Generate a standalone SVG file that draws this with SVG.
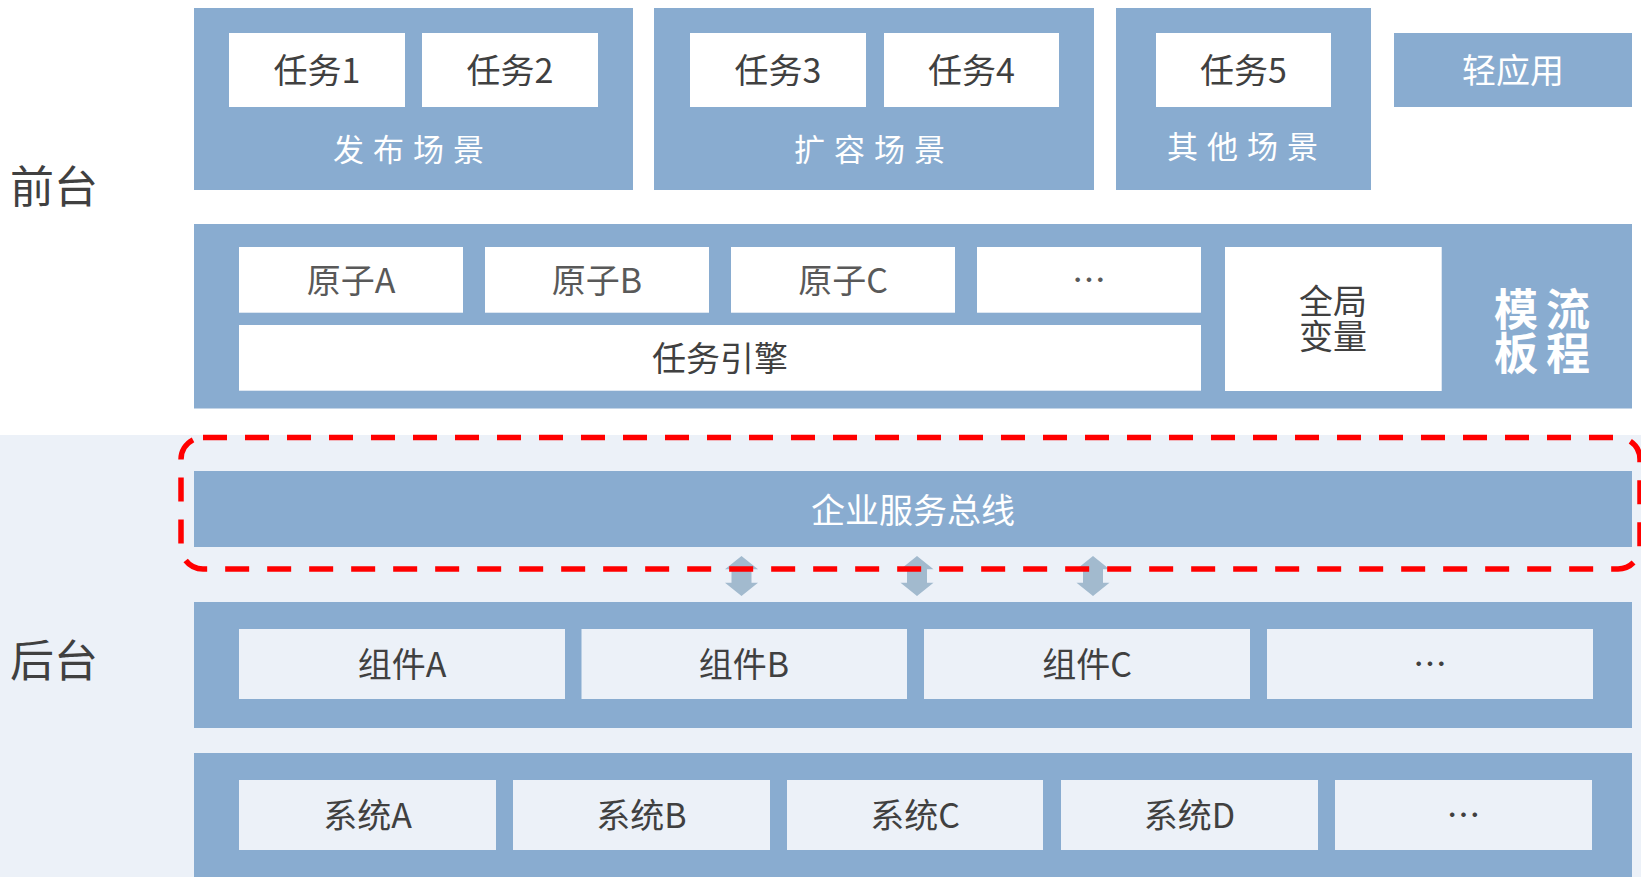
<svg xmlns="http://www.w3.org/2000/svg" width="1641" height="877" viewBox="0 0 1641 877">
<defs>
<style>
.panel{fill:#89ACD0}
.wbox{fill:#FFFFFF}
.lbox{fill:#ECF1F8}
.t{font-family:"Noto Sans CJK SC","Noto Sans",sans-serif;fill:#404040;text-anchor:middle;font-size:34px}
.t2{fill:#595959}
.wt{font-family:"Noto Sans CJK SC","Noto Sans",sans-serif;fill:#FFFFFF;text-anchor:middle}
.scene{font-size:31px;letter-spacing:9px}
.side{font-family:"Noto Sans CJK SC","Noto Sans",sans-serif;fill:#404040;font-size:44px}
.arrow{fill:#A2BACE}
</style>
</defs>
<rect x="0" y="0" width="1641" height="877" fill="#FFFFFF"/>
<rect x="0" y="435" width="1641" height="442" fill="#ECF1F8"/>

<g id="label-front"><text class="side" x="10" y="203">前台</text></g>
<g id="label-back"><text class="side" x="10" y="677">后台</text></g>

<g id="scene-publish">
<rect class="panel" x="194" y="8" width="439" height="182"/>
<rect class="wbox" x="229" y="33" width="176" height="74"/>
<text class="t" x="317" y="83">任务1</text>
<rect class="wbox" x="422" y="33" width="176" height="74"/>
<text class="t" x="510" y="83">任务2</text>
<text class="wt scene" x="413" y="161">发布场景</text>
</g>

<g id="scene-scale">
<rect class="panel" x="654" y="8" width="440" height="182"/>
<rect class="wbox" x="690" y="33" width="176" height="74"/>
<text class="t" x="778" y="83">任务3</text>
<rect class="wbox" x="884" y="33" width="175" height="74"/>
<text class="t" x="971.5" y="83">任务4</text>
<text class="wt scene" x="874" y="161">扩容场景</text>
</g>

<g id="scene-other">
<rect class="panel" x="1116" y="8" width="255" height="182"/>
<rect class="wbox" x="1156" y="33" width="175" height="74"/>
<text class="t" x="1243.5" y="83">任务5</text>
<text class="wt scene" x="1247" y="158">其他场景</text>
</g>

<g id="light-app">
<rect class="panel" x="1394" y="33" width="238" height="74"/>
<text class="wt" x="1513" y="83" font-size="34">轻应用</text>
</g>

<g id="template-flow">
<rect class="panel" x="194" y="224" width="1438" height="184.5"/>
<rect class="wbox" x="239" y="247" width="224" height="65.7"/>
<text class="t t2" x="351" y="293">原子A</text>
<rect class="wbox" x="485" y="247" width="224" height="65.7"/>
<text class="t t2" x="597" y="293">原子B</text>
<rect class="wbox" x="731" y="247" width="224" height="65.7"/>
<text class="t t2" x="843" y="293">原子C</text>
<rect class="wbox" x="977" y="247" width="224" height="65.7"/>
<text class="t t2" x="1089" y="293">…</text>
<rect class="wbox" x="239" y="325" width="962" height="65.7"/>
<text class="t" x="720" y="371">任务引擎</text>
<rect class="wbox" x="1225" y="247" width="216.7" height="144"/>
<text class="t" font-size="32"><tspan x="1333" y="314">全局</tspan><tspan x="1333" y="348.5">变量</tspan></text>
<text class="wt" font-size="44" font-weight="700" letter-spacing="8" style="text-anchor:start"><tspan x="1494" y="325.7">模流</tspan><tspan x="1494" y="369.7">板程</tspan></text>
</g>

<g id="esb">
<rect class="panel" x="194" y="471" width="1438" height="76"/>
<text class="wt" x="913" y="523" font-size="34">企业服务总线</text>
</g>

<g id="components">
<rect class="panel" x="194" y="602" width="1438" height="126"/>
<rect class="lbox" x="239" y="629" width="326" height="70"/>
<text class="t" x="402" y="677">组件A</text>
<rect class="lbox" x="581.5" y="629" width="325.5" height="70"/>
<text class="t" x="744" y="677">组件B</text>
<rect class="lbox" x="924" y="629" width="326" height="70"/>
<text class="t" x="1087" y="677">组件C</text>
<rect class="lbox" x="1267" y="629" width="326" height="70"/>
<text class="t" x="1430" y="677">…</text>
</g>

<g id="systems">
<rect class="panel" x="194" y="753" width="1438" height="124"/>
<rect class="lbox" x="239" y="780" width="257" height="70"/>
<text class="t" x="367.5" y="828">系统A</text>
<rect class="lbox" x="513" y="780" width="257" height="70"/>
<text class="t" x="641.5" y="828">系统B</text>
<rect class="lbox" x="787" y="780" width="256" height="70"/>
<text class="t" x="915" y="828">系统C</text>
<rect class="lbox" x="1061" y="780" width="257" height="70"/>
<text class="t" x="1189.5" y="828">系统D</text>
<rect class="lbox" x="1335" y="780" width="257" height="70"/>
<text class="t" x="1463.5" y="828">…</text>
</g>

<g id="connectors">
<path class="arrow" d="M741.5,556 L758,569.3 L751.5,569.3 L751.5,582.7 L758,582.7 L741.5,596 L725,582.7 L731.5,582.7 L731.5,569.3 L725,569.3 Z"/>
<path class="arrow" d="M917,556 L933.5,569.3 L927,569.3 L927,582.7 L933.5,582.7 L917,596 L900.5,582.7 L907,582.7 L907,569.3 L900.5,569.3 Z"/>
<path class="arrow" d="M1093,556 L1109.5,569.3 L1103,569.3 L1103,582.7 L1109.5,582.7 L1093,596 L1076.5,582.7 L1083,582.7 L1083,569.3 L1076.5,569.3 Z"/>
</g>

<g id="highlight">
<rect x="181" y="437.5" width="1459" height="131.5" rx="22" ry="22" fill="none" stroke="#FF0000" stroke-width="5.5" stroke-dasharray="24 18"/>
</g>
</svg>
